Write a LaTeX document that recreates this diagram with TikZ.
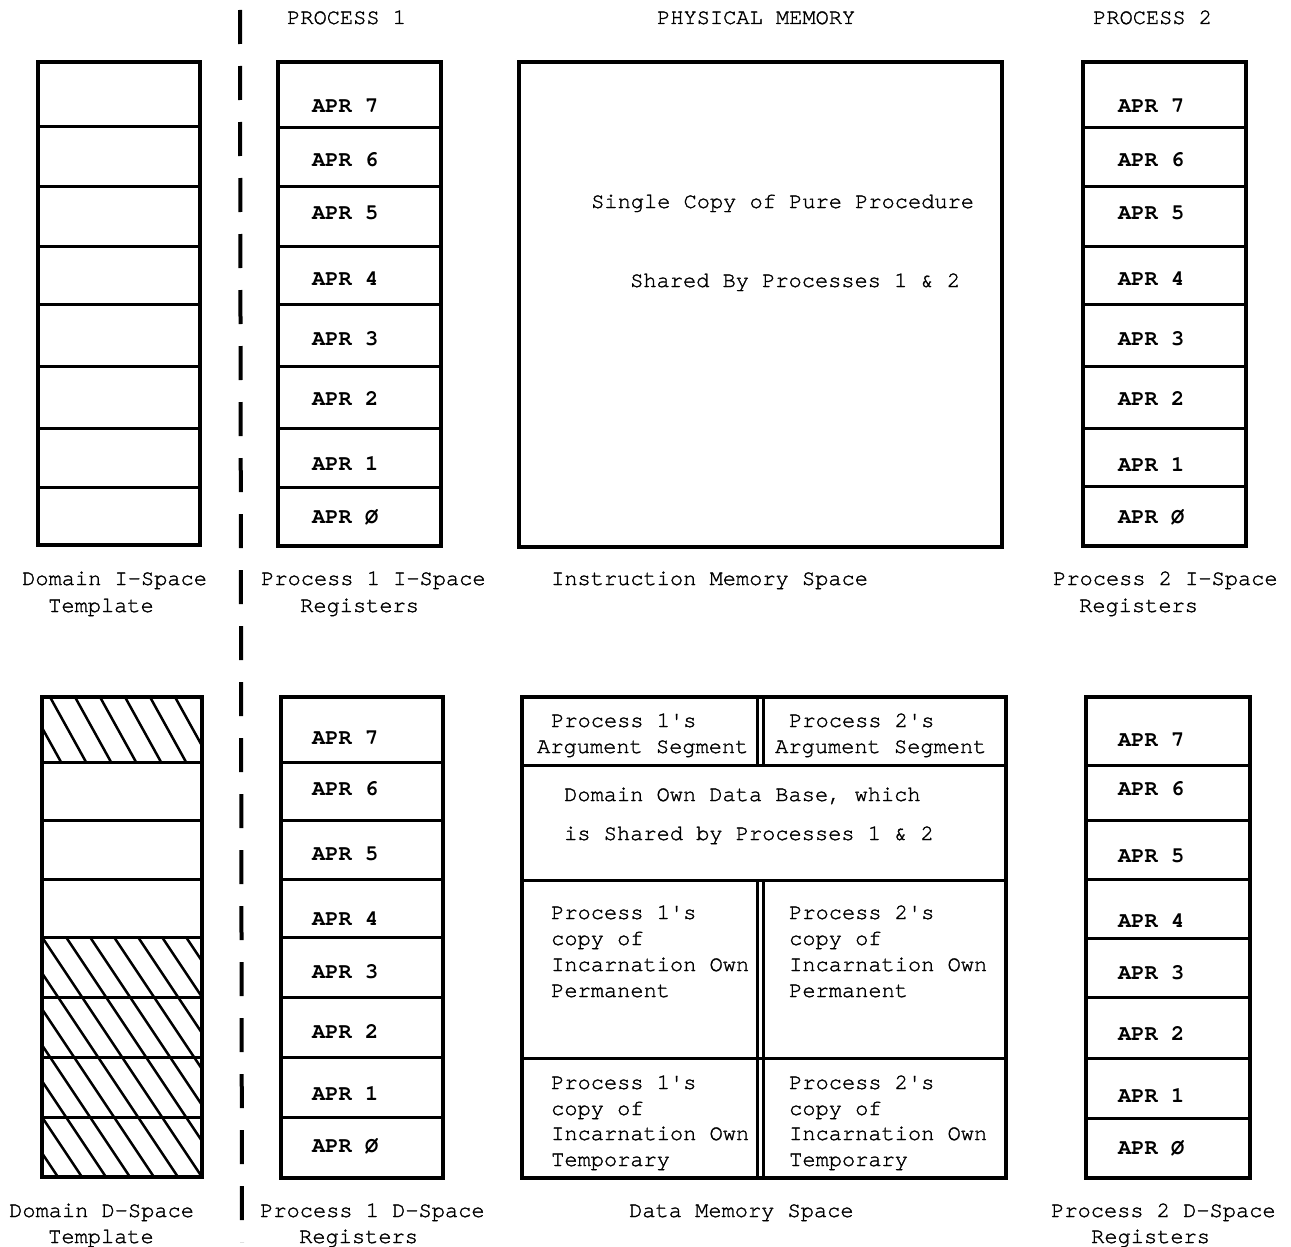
\documentclass[tikz,border=0pt]{standalone}
\usepackage{fontspec}
\newfontfamily\tw[FakeBold=1.4]{texgyrecursor-regular.otf}
\newfontfamily\twb{texgyrecursor-bold.otf}
\begin{document}
\begin{tikzpicture}[x=1pt,y=-1pt]
\tikzset{
 box/.style={line width=3.5pt, line join=miter},
 rule/.style={line width=3pt},
 txt/.style={anchor=base west, inner sep=0pt, font=\tw\fontsize{22}{26}\selectfont},
 apr/.style={anchor=base west, inner sep=0pt, font=\twb\fontsize{22}{26}\selectfont},
 hatch/.style={line width=2.5pt},
 divider/.style={line width=4pt, dash pattern=on 34pt off 22pt},
}
\useasboundingbox (0,0) rectangle (1291,1247);
\fill[white] (0,0) rectangle (1291,1247);

% dashed divider
\coordinate (dvtop) at (240,10);
\coordinate (dvbot) at (242,1242);
\draw[divider] (dvtop) -- (dvbot);

% headers
\node[txt] (h1) at (287,24) {PROCESS 1};
\node[txt] (h2) at (657,24) {PHYSICAL MEMORY};
\node[txt] (h3) at (1093,24) {PROCESS 2};

% ===== TOP SECTION =====
% Domain I-Space Template
\draw[box] (38,62) rectangle (200,545);
\foreach \y in {126,186,246,304,366,428,487} \draw[rule] (38,\y) -- (200,\y);
% Process 1 I-Space registers
\draw[box] (278,62) rectangle (441,546);
\foreach \y in {127,186,246,304,366,428,487} \draw[rule] (278,\y) -- (441,\y);
\foreach \n/\t/\y in {7/7/106,6/6/159,5/5/212,4/4/278,3/3/338,2/2/398,1/1/463,0/Ø/516}
  \node[apr] (p1i\n) at (312,\y+7) {APR \t};
% Instruction memory
\draw[box] (519,62) rectangle (1002,547);
\node[txt] (pure1) at (591,208) {Single Copy of Pure Procedure};
\node[txt] (pure2) at (630,287) {Shared By Processes 1 \& 2};
% Process 2 I-Space registers
\draw[box] (1083,62) rectangle (1246,546);
\foreach \y in {127,186,246,304,366,428,486} \draw[rule] (1083,\y) -- (1246,\y);
\foreach \n/\t/\y in {7/7/106,6/6/159,5/5/212,4/4/278,3/3/338,2/2/398,1/1/464,0/Ø/516}
  \node[apr] (p2i\n) at (1118,\y+7) {APR \t};

% captions top
\node[txt] (c1a) at (22,585) {Domain I-Space};
\node[txt] (c1b) at (48,612) {Template};
\node[txt] (c2a) at (261,585) {Process 1 I-Space};
\node[txt] (c2b) at (300,612) {Registers};
\node[txt] (c3a) at (551,585) {Instruction Memory Space};
\node[txt] (c4a) at (1053,585) {Process 2 I-Space};
\node[txt] (c4b) at (1079,612) {Registers};

% ===== BOTTOM SECTION =====
% Domain D-Space Template hatching
\begin{scope}
 \clip (42,697) rectangle (202,762);
 \foreach \x in {0,25,...,225} \draw[hatch] (\x,697) -- ++(36,65);
\end{scope}
\begin{scope}
 \clip (42,937) rectangle (202,1177);
 \foreach \x in {-150,-126,...,210} \draw[hatch] (\x,937) -- ++(160,240);
\end{scope}
\draw[box] (42,697) rectangle (202,1177);
\foreach \y in {762,820,879,937,997,1057,1117} \draw[rule] (42,\y) -- (202,\y);
% Process 1 D-Space registers
\draw[box] (281,697) rectangle (443,1178);
\foreach \y in {762,820,879,937,997,1057,1117} \draw[rule] (281,\y) -- (443,\y);
\foreach \n/\t/\y in {7/7/737,6/6/788,5/5/853,4/4/918,3/3/971,2/2/1031,1/1/1093,0/Ø/1145}
  \node[apr] (p1d\n) at (312,\y+7) {APR \t};
% Data memory
\draw[box] (522,697) rectangle (1006,1178);
\foreach \y in {765,880,1058} \draw[rule] (522,\y) -- (1006,\y);
\foreach \x in {757,763} {
  \draw[rule] (\x,697) -- (\x,765);
  \draw[rule] (\x,880) -- (\x,1178);
}
\node[txt] (a1a) at (551,727) {Process 1's};
\node[txt] (a1b) at (537,753) {Argument Segment};
\node[txt] (a2a) at (789,727) {Process 2's};
\node[txt] (a2b) at (775,753) {Argument Segment};
\node[txt] (db1) at (564,801) {Domain Own Data Base, which};
\node[txt] (db2) at (564,840) {is Shared by Processes 1 \& 2};
\node[txt] (pp1a) at (551,919) {Process 1's};
\node[txt] (pp1b) at (551,945) {copy of};
\node[txt] (pp1c) at (551,971) {Incarnation Own};
\node[txt] (pp1d) at (551,997) {Permanent};
\node[txt] (pp2a) at (789,919) {Process 2's};
\node[txt] (pp2b) at (789,945) {copy of};
\node[txt] (pp2c) at (789,971) {Incarnation Own};
\node[txt] (pp2d) at (789,997) {Permanent};
\node[txt] (pt1a) at (551,1089) {Process 1's};
\node[txt] (pt1b) at (551,1115) {copy of};
\node[txt] (pt1c) at (551,1140) {Incarnation Own};
\node[txt] (pt1d) at (551,1166) {Temporary};
\node[txt] (pt2a) at (789,1089) {Process 2's};
\node[txt] (pt2b) at (789,1115) {copy of};
\node[txt] (pt2c) at (789,1140) {Incarnation Own};
\node[txt] (pt2d) at (789,1166) {Temporary};
% Process 2 D-Space registers
\draw[box] (1086,697) rectangle (1250,1178);
\foreach \y in {765,820,879,938,997,1058,1118} \draw[rule] (1086,\y) -- (1250,\y);
\foreach \n/\t/\y in {7/7/739,6/6/788,5/5/855,4/4/920,3/3/972,2/2/1033,1/1/1095,0/Ø/1147}
  \node[apr] (p2d\n) at (1118,\y+7) {APR \t};

% captions bottom
\node[txt] (d1a) at (9,1217) {Domain D-Space};
\node[txt] (d1b) at (48,1243) {Template};
\node[txt] (d2a) at (260,1217) {Process 1 D-Space};
\node[txt] (d2b) at (299,1243) {Registers};
\node[txt] (d3a) at (629,1217) {Data Memory Space};
\node[txt] (d4a) at (1051,1217) {Process 2 D-Space};
\node[txt] (d4b) at (1091,1243) {Registers};
\end{tikzpicture}
\end{document}
